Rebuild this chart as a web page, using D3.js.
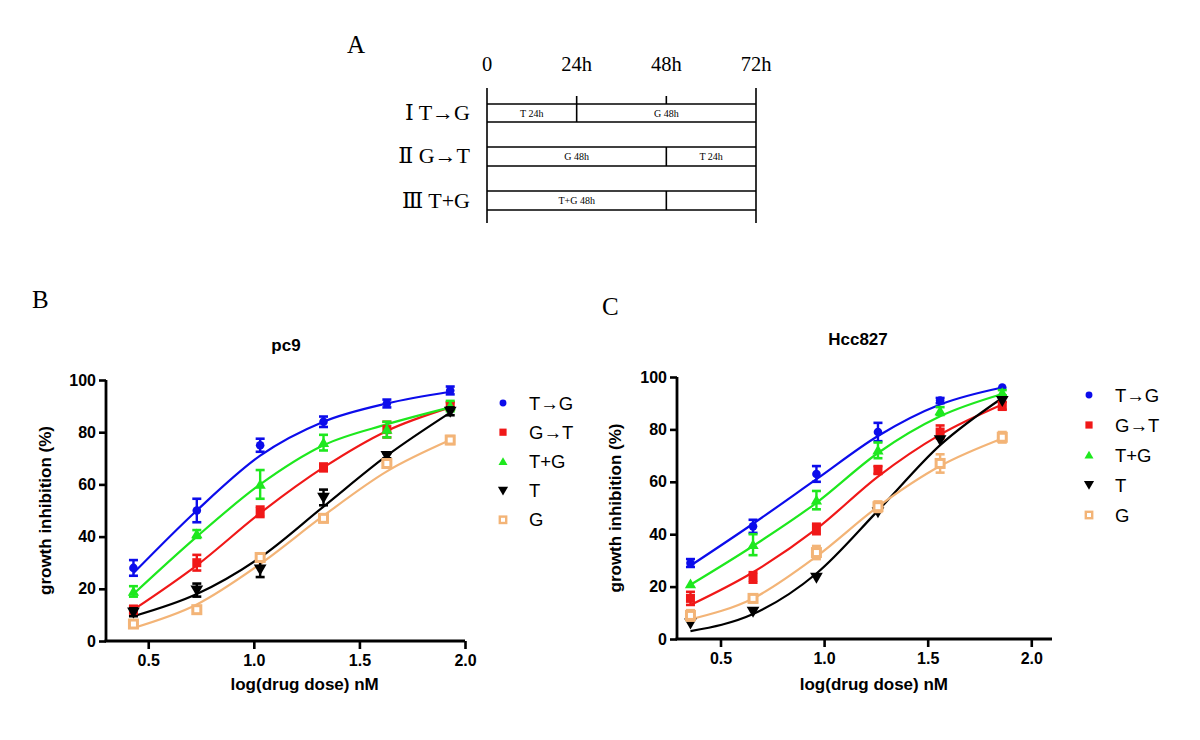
<!DOCTYPE html>
<html>
<head>
<meta charset="utf-8">
<script src="https://cdn.jsdelivr.net/npm/d3@7"></script>
<style>
  html, body { margin: 0; padding: 0; background: #fff; }
  svg { display: block; }
</style>
</head>
<body>
<svg id="chart" width="1200" height="740"></svg>
<script>
// ---------------- DATA ----------------
const seriesNames = ["T→G", "G→T", "T+G", "T", "G"];
const seriesColors = ["#0c0ceb", "#f01818", "#1ee81e", "#000000", "#f3b477"];
const seriesShapes = ["circle", "square", "triangle", "triangleDown", "hollowSquare"];

const yTicks = [0, 20, 40, 60, 80, 100];
const xTicks = [0.5, 1.0, 1.5, 2.0];

// pc9
const pc9Dose = [0.43, 0.73, 1.03, 1.33, 1.63, 1.93];
const pc9TG  = [28, 50, 75, 84, 91, 96];
const pc9GT  = [12, 30, 49.5, 66.5, 81, 90];
const pc9TpG = [19, 41, 60, 76, 81, 90];
const pc9T   = [11, 19.5, 27.5, 55, 71, 88];
const pc9G   = [6.5, 12, 32, 47, 68, 77];
const pc9TGErr  = [3, 4.5, 2.5, 2, 1.5, 1.5];
const pc9GTErr  = [1.5, 3, 2, 1.5, 3, 1.5];
const pc9TpGErr = [2, 1.5, 5.5, 3, 3, 2];
const pc9TErr   = [1.5, 2.5, 3, 3, 1, 1.5];
const pc9GErr   = [1, 1, 1.5, 1.5, 1.5, 1.5];
// fitted curve values read at each dose
const pc9TGFit  = [26, 50, 71, 84, 91, 95.5];
const pc9GTFit  = [12, 29, 49, 66.5, 80.5, 89.5];
const pc9TpGFit = [18, 40, 60, 75, 83, 89.5];
const pc9TFit   = [9.5, 18, 32, 51.5, 71, 87.5];
const pc9GFit   = [5, 14, 29.5, 48, 65, 77];

// Hcc827
const hccDose = [0.355, 0.657, 0.963, 1.26, 1.56, 1.86];
const hccTG  = [29, 43, 63, 79, 91, 96];
const hccGT  = [15.5, 23.5, 42, 64.5, 79, 89];
const hccTpG = [21, 36, 53, 72, 87, 94];
const hccT   = [6, 10.5, 23.5, 48.5, 76, 91];
const hccG   = [9, 15.5, 33, 50.5, 67, 77];
const hccTGErr  = [1.5, 2.5, 3, 3.5, 1, 0.5];
const hccGTErr  = [2.5, 2, 2, 1.5, 2.5, 1.5];
const hccTpGErr = [0.5, 4, 3.5, 3, 1.5, 1];
const hccTErr   = [0.5, 0.5, 0.5, 0.5, 0.5, 0.5];
const hccGErr   = [2, 1.5, 2.5, 2, 3.5, 2];
const hccTGFit  = [28, 44, 61, 77.5, 89.5, 96];
const hccGTFit  = [13, 25.5, 42, 62, 78, 89.5];
const hccTpGFit = [20.7, 35.5, 52, 71, 85, 93.5];
const hccTFit   = [3, 9.5, 25, 49, 74, 92];
const hccGFit   = [7.5, 15.5, 31.5, 50.5, 66, 76.5];

// schematic
const timeLabels = ["0", "24h", "48h", "72h"];
const timeHours = [0, 24, 48, 72];
const schemeRows = ["Ⅰ T→G", "Ⅱ G→T", "Ⅲ T+G"];
const schemeSegments = [
  [{label: "T 24h", from: 0, to: 24}, {label: "G 48h", from: 24, to: 72}],
  [{label: "G 48h", from: 0, to: 48}, {label: "T 24h", from: 48, to: 72}],
  [{label: "T+G 48h", from: 0, to: 48}, {label: "", from: 48, to: 72}]
];

// ---------------- DRAW ----------------
const svg = d3.select("#chart");
const serif = "'Liberation Serif', 'DejaVu Serif', 'Times New Roman', serif";
const sans = "'Liberation Sans', Arial, sans-serif";

// Panel labels
svg.append("text").attr("x", 347).attr("y", 53).attr("font-family", serif).attr("font-size", 25).text("A");
svg.append("text").attr("x", 32).attr("y", 308).attr("font-family", serif).attr("font-size", 25).text("B");
svg.append("text").attr("x", 602).attr("y", 315).attr("font-family", serif).attr("font-size", 25).text("C");

// ---- Schematic A ----
(function () {
  const tx = d3.scaleLinear().domain([0, 72]).range([487, 756]);
  const g = svg.append("g");
  g.selectAll("text.time").data(timeLabels).join("text")
    .attr("x", (d, i) => tx(timeHours[i]))
    .attr("y", 71)
    .attr("text-anchor", "middle")
    .attr("font-family", serif).attr("font-size", 20.5)
    .text(d => d);
  [0, 72].forEach(h => {
    g.append("line").attr("x1", tx(h)).attr("x2", tx(h)).attr("y1", 88).attr("y2", 223)
      .attr("stroke", "#000").attr("stroke-width", 1.6);
  });
  const rowTop = [104, 147, 191];
  const rowBot = [122, 166, 210];
  const rowLabelY = [120, 163, 208];
  schemeRows.forEach((lbl, r) => {
    g.append("text").attr("x", 470).attr("y", rowLabelY[r]).attr("text-anchor", "end")
      .attr("font-family", serif).attr("font-size", 22).text(lbl);
    [rowTop[r], rowBot[r]].forEach(yy => {
      g.append("line").attr("x1", tx(0)).attr("x2", tx(72)).attr("y1", yy).attr("y2", yy)
        .attr("stroke", "#000").attr("stroke-width", 1.6);
    });
    schemeSegments[r].forEach((s, i) => {
      if (i > 0) {
        g.append("line").attr("x1", tx(s.from)).attr("x2", tx(s.from))
          .attr("y1", r === 0 ? rowTop[r] - 8 : rowTop[r]).attr("y2", rowBot[r])
          .attr("stroke", "#000").attr("stroke-width", 1.6);
      }
      if (s.label) {
        g.append("text").attr("x", (tx(s.from) + tx(s.to)) / 2).attr("y", (rowTop[r] + rowBot[r]) / 2 + 3.5)
          .attr("text-anchor", "middle").attr("font-family", serif).attr("font-size", 10).text(s.label);
      }
    });
  });
  g.append("line").attr("x1", tx(48)).attr("x2", tx(48)).attr("y1", rowTop[0] - 8).attr("y2", rowTop[0])
    .attr("stroke", "#000").attr("stroke-width", 1.6);
})();

// ---- marker helper ----
function drawMarker(g, shape, color, x, y, big) {
  const s = big ? 1 : 0.8;
  if (shape === "circle") {
    g.append("circle").attr("cx", x).attr("cy", y).attr("r", 4.3 * s).attr("fill", color);
  } else if (shape === "square") {
    g.append("rect").attr("x", x - 4.5 * s).attr("y", y - 4.5 * s).attr("width", 9 * s).attr("height", 9 * s).attr("fill", color);
  } else if (shape === "hollowSquare") {
    g.append("rect").attr("x", x - 4 * s).attr("y", y - 4 * s).attr("width", 8 * s).attr("height", 8 * s)
      .attr("fill", "#fff").attr("stroke", color).attr("stroke-width", 3 * s);
  } else if (shape === "triangle") {
    const sym = d3.symbol().type(d3.symbolTriangle).size(55 * s * s);
    g.append("path").attr("d", sym()).attr("transform", `translate(${x},${y + 1})`).attr("fill", color);
  } else if (shape === "triangleDown") {
    const sym = d3.symbol().type(d3.symbolTriangle).size(70 * s * s);
    g.append("path").attr("d", sym()).attr("transform", `translate(${x},${y - 1}) rotate(180)`).attr("fill", color);
  }
}

// ---- growth panel ----
function drawPanel(cfg) {
  const x = d3.scaleLinear().domain(cfg.xDomain).range([cfg.left, cfg.right]);
  const y = d3.scaleLinear().domain([0, 100]).range([cfg.bottom, cfg.top]);
  const g = svg.append("g");

  const ax = g.append("g").attr("transform", `translate(0,${cfg.bottom})`)
    .call(d3.axisBottom(x).tickValues(xTicks).tickFormat(d3.format(".1f")).tickSizeOuter(0).tickSize(8).tickPadding(6));
  const ay = g.append("g").attr("transform", `translate(${cfg.left},0)`)
    .call(d3.axisLeft(y).tickValues(yTicks).tickSizeOuter(0).tickSize(7).tickPadding(3));
  [ax, ay].forEach(a => {
    a.select(".domain").attr("stroke", "#000").attr("stroke-width", 2.8);
    a.selectAll(".tick line").attr("stroke", "#000").attr("stroke-width", 2.6);
    a.selectAll(".tick text").attr("fill", "#000").attr("font-family", sans).attr("font-weight", "bold").attr("font-size", 16);
  });
  ax.select(".domain").attr("d", `M${cfg.left - 1.4},0H${cfg.right}`);
  ay.select(".domain").attr("d", `M0,${cfg.bottom}V${cfg.top}`);

  g.append("text").attr("x", cfg.titleX).attr("y", cfg.titleY).attr("text-anchor", "middle")
    .attr("font-family", sans).attr("font-weight", "bold").attr("font-size", 17).text(cfg.title);
  g.append("text").attr("x", (x(0.5) + x(2.0)) / 2 - 2).attr("y", 690).attr("text-anchor", "middle")
    .attr("font-family", sans).attr("font-weight", "bold").attr("font-size", 17).text("log(drug dose) nM");
  g.append("text").attr("transform", `translate(${cfg.ylabX},${(cfg.top + cfg.bottom) / 2}) rotate(-90)`)
    .attr("text-anchor", "middle").attr("font-family", sans).attr("font-weight", "bold").attr("font-size", 17)
    .text("growth inhibition (%)");

  const line = d3.line().x(d => x(d[0])).y(d => y(d[1])).curve(d3.curveMonotoneX);

  cfg.series.forEach((s, i) => {
    const pts = cfg.dose.map((d, k) => [d, s.fit[k]]);
    g.append("path").attr("d", line(pts)).attr("fill", "none").attr("stroke", seriesColors[i]).attr("stroke-width", 2.2);
  });
  cfg.series.forEach((s, i) => {
    const color = seriesColors[i];
    cfg.dose.forEach((d, k) => {
      const cx = x(d), m = s.mean[k], e = s.err[k];
      const y1 = y(m + e), y2 = y(m - e);
      if (e > 0.6) {
        g.append("line").attr("x1", cx).attr("x2", cx).attr("y1", y1).attr("y2", y2).attr("stroke", color).attr("stroke-width", 2.4);
        [y1, y2].forEach(yy => g.append("line").attr("x1", cx - 4.5).attr("x2", cx + 4.5).attr("y1", yy).attr("y2", yy)
          .attr("stroke", color).attr("stroke-width", 2.6));
      }
      drawMarker(g, seriesShapes[i], color, cx, y(m), true);
    });
  });

  seriesNames.forEach((n, i) => {
    const ly = cfg.legendY + i * cfg.legendStep;
    drawMarker(g, seriesShapes[i], seriesColors[i], cfg.legendX, ly, false);
    g.append("text").attr("x", cfg.legendX + 26).attr("y", ly + 6.5)
      .attr("font-family", sans).attr("font-size", 18.5).attr("fill", "#000").text(n);
  });
}

drawPanel({
  title: "pc9", titleX: 286, titleY: 351,
  left: 106, right: 465, top: 380, bottom: 641, xDomain: [0.3, 2.0],
  ylabX: 51, legendX: 503, legendY: 403, legendStep: 29.2,
  dose: pc9Dose,
  series: [
    {mean: pc9TG, err: pc9TGErr, fit: pc9TGFit},
    {mean: pc9GT, err: pc9GTErr, fit: pc9GTFit},
    {mean: pc9TpG, err: pc9TpGErr, fit: pc9TpGFit},
    {mean: pc9T, err: pc9TErr, fit: pc9TFit},
    {mean: pc9G, err: pc9GErr, fit: pc9GFit}
  ]
});

drawPanel({
  title: "Hcc827", titleX: 858, titleY: 345,
  left: 677, right: 1052, top: 377, bottom: 639, xDomain: [0.29, 2.1],
  ylabX: 621, legendX: 1089, legendY: 395, legendStep: 30,
  dose: hccDose,
  series: [
    {mean: hccTG, err: hccTGErr, fit: hccTGFit},
    {mean: hccGT, err: hccGTErr, fit: hccGTFit},
    {mean: hccTpG, err: hccTpGErr, fit: hccTpGFit},
    {mean: hccT, err: hccTErr, fit: hccTFit},
    {mean: hccG, err: hccGErr, fit: hccGFit}
  ]
});
</script>
</body>
</html>
